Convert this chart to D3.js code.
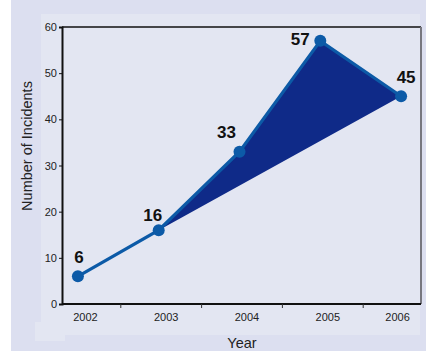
<!DOCTYPE html>
<html>
<head>
<meta charset="utf-8">
<script src="https://cdn.jsdelivr.net/npm/d3@7"></script>
<style>
  body { margin: 0; background: #fff; }
  svg { display: block; font-family: "Liberation Sans", Arial, sans-serif; }
</style>
</head>
<body>
<div id="chart"></div>
<script>
var years = ["2002", "2003", "2004", "2005", "2006"];
var incidents = [6, 16, 33, 57, 45];
var yTicks = [0, 10, 20, 30, 40, 50, 60];

var W = 426, H = 351;
var svg = d3.select("#chart").append("svg")
  .attr("width", W)
  .attr("height", H);

// backgrounds
svg.append("rect").attr("x", 11).attr("y", 0).attr("width", W - 11).attr("height", H).attr("fill", "#dcdff0");
svg.append("rect").attr("x", 41).attr("y", 14).attr("width", 379).attr("height", 321).attr("fill", "#e3e6f2");
svg.append("rect").attr("x", 35).attr("y", 322).attr("width", 30).attr("height", 19).attr("fill", "#e3e6f2");

var plot = {left: 62, right: 421, top: 27, bottom: 304};

var x = d3.scaleBand()
  .domain(years)
  .range([40, 444]);

var y = d3.scaleLinear()
  .domain([0, 60])
  .range([plot.bottom, plot.top]);

function px(d) { return x(d) + x.bandwidth() / 2 - 2.5; }

var data = years.map(function(d, i) { return {year: d, value: incidents[i]}; });

// frame top/right
svg.append("line").attr("x1", plot.left).attr("x2", plot.right).attr("y1", plot.top).attr("y2", plot.top)
  .attr("stroke", "#111").attr("stroke-width", 1.3);
svg.append("line").attr("x1", plot.right).attr("x2", plot.right).attr("y1", plot.top).attr("y2", plot.bottom)
  .attr("stroke", "#77777f").attr("stroke-width", 2);

// filled area between the 2003 point and the later points
var fillPts = data.slice(1);
var poly = fillPts.map(function(d) { return [px(d.year), y(d.value)]; });
svg.append("path")
  .attr("d", d3.line()(poly) + "Z")
  .attr("fill", "#0f2a88");

// line
svg.append("path")
  .datum(data)
  .attr("d", d3.line().x(function(d) { return px(d.year); }).y(function(d) { return y(d.value); }))
  .attr("fill", "none")
  .attr("stroke", "#0c5aa7")
  .attr("stroke-width", 3.2);

svg.selectAll(".dot")
  .data(data)
  .enter().append("circle")
  .attr("cx", function(d) { return px(d.year); })
  .attr("cy", function(d) { return y(d.value); })
  .attr("r", 6)
  .attr("fill", "#0c5aa7");

// value labels
var labelOff = {"2002": [1, -13], "2003": [-6, -9], "2004": [-13, -14], "2005": [-20, 4], "2006": [5, -13]};
svg.selectAll(".val")
  .data(data)
  .enter().append("text")
  .attr("x", function(d) { return px(d.year) + labelOff[d.year][0]; })
  .attr("y", function(d) { return y(d.value) + labelOff[d.year][1]; })
  .attr("text-anchor", "middle")
  .attr("font-size", 17)
  .attr("font-weight", "bold")
  .attr("fill", "#111")
  .text(function(d) { return d.value; });

// y axis
var gy = svg.append("g")
  .attr("transform", "translate(" + plot.left + ",0)")
  .call(d3.axisLeft(y).tickValues(yTicks).tickSize(3).tickPadding(2));
gy.select(".domain").attr("stroke", "#111").attr("stroke-width", 2);
gy.selectAll(".tick line").attr("stroke", "#111");
gy.selectAll("text").attr("font-size", 11).attr("fill", "#222").attr("font-family", "Liberation Sans, Arial, sans-serif");

// x axis
var gx = svg.append("g")
  .attr("transform", "translate(0," + plot.bottom + ")");
gx.append("line").attr("x1", plot.left).attr("x2", plot.right).attr("stroke", "#111").attr("stroke-width", 2);
gx.selectAll(".tk")
  .data(years.slice(1))
  .enter().append("line")
  .attr("x1", function(d) { return x(d); })
  .attr("x2", function(d) { return x(d); })
  .attr("y1", 0).attr("y2", 4)
  .attr("stroke", "#333");
gx.selectAll(".lbl")
  .data(years)
  .enter().append("text")
  .attr("x", function(d, i) { return x(d) + x.bandwidth() / 2 + (i === years.length - 1 ? -6 : 5); })
  .attr("y", 17)
  .attr("text-anchor", "middle")
  .attr("font-size", 11)
  .attr("fill", "#222")
  .text(function(d) { return d; });

// axis titles
svg.append("text")
  .attr("transform", "translate(32,146) rotate(-90)")
  .attr("text-anchor", "middle")
  .attr("font-size", 14.5)
  .attr("fill", "#222")
  .text("Number of Incidents");

svg.append("text")
  .attr("x", 242)
  .attr("y", 348)
  .attr("text-anchor", "middle")
  .attr("font-size", 14.5)
  .attr("fill", "#222")
  .text("Year");
</script>
</body>
</html>
